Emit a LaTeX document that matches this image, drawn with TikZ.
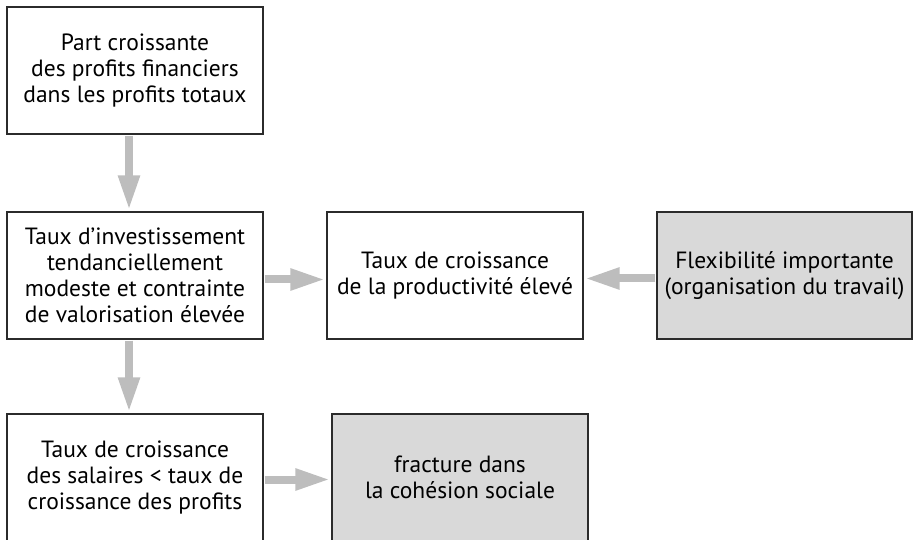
\documentclass[tikz,border=0pt]{standalone}
\usepackage{fontspec}
\setmainfont{PT Sans}
\usetikzlibrary{arrows.meta}
\definecolor{arrowgray}{HTML}{BDBDBD}
\definecolor{boxfill}{HTML}{D9D9D9}
\definecolor{edge}{HTML}{2B2B2B}
\begin{document}
\begin{tikzpicture}[x=1pt,y=-1pt,
  box/.style={draw=edge, line width=1.6pt, minimum width=256pt, minimum height=127pt,
    align=center, inner sep=0pt, font=\fontsize{23.5pt}{26pt}\selectfont},
  shaded/.style={box, fill=boxfill},
  flow/.style={draw=arrowgray, line width=8pt, shorten <=0.8pt, shorten >=0.8pt,
    -{Triangle[length=35pt,width=20pt]}}]
\useasboundingbox (0,0) rectangle (914,540);

% boxes
\node[box]    (b1) at (135,70.5)   {Part croissante\\des profits financiers\\dans les profits totaux};
\node[box]    (b2) at (135,275.5)  {Taux d’investissement\\tendanciellement\\modeste et contrainte\\de valorisation élevée};
\node[box]    (b3) at (455,275.5)  {Taux de croissance\\de la productivité élevé};
\node[shaded, minimum width=255pt] (b4) at (784.5,275.5) {Flexibilité importante\\(organisation du travail)};
\node[box]    (b5) at (135,477.5)  {Taux de croissance\\des salaires < taux de\\croissance des profits};
\node[shaded] (b6) at (460,477.5)  {fracture dans\\la cohésion sociale};

% connectors
\draw[flow] ([xshift=-6pt]b1.south) -- ([xshift=-6pt]b2.north);
\draw[flow] ([yshift=-4pt]b2.east) -- ([yshift=-4pt]b3.west);
\draw[flow] ([yshift=-3pt]b4.west) -- ([yshift=-3pt]b3.east);
\draw[flow] ([xshift=-6pt]b2.south) -- ([xshift=-6pt]b5.north);
\draw[flow] ([yshift=-2pt]b5.east) -- ([yshift=-2pt]b6.west);
\end{tikzpicture}
\end{document}
